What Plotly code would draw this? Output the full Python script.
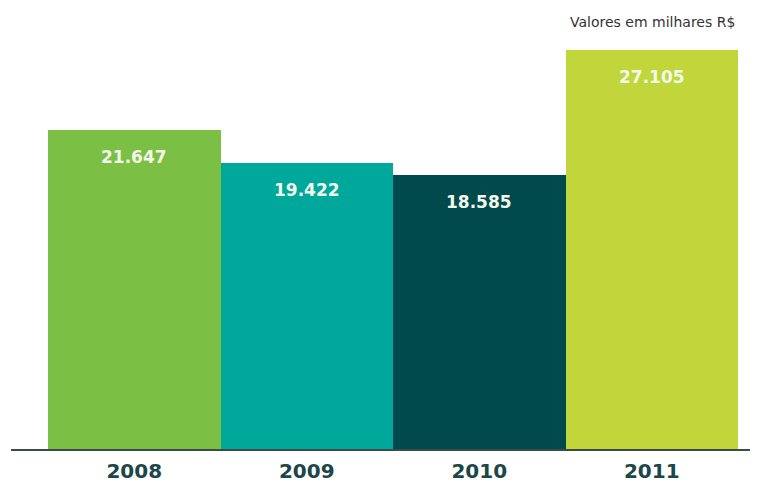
import plotly.graph_objects as go

# Annual values (thousands of R$)
years = ["2008", "2009", "2010", "2011"]
values = [21647, 19422, 18585, 27105]
bar_colors = ["#7cbf45", "#00a89b", "#004a4d", "#c0d63b"]


def fmt_br(v):
    # Brazilian thousands separator
    return f"{v:,}".replace(",", ".")


positions = list(range(len(years)))

fig = go.Figure()
fig.add_trace(
    go.Bar(
        x=positions,
        y=values,
        width=1.0,
        marker=dict(color=bar_colors, line=dict(width=0)),
        hoverinfo="skip",
    )
)

# value labels inside the top of each bar
for x, v in zip(positions, values):
    fig.add_annotation(
        x=x,
        y=v,
        text=fmt_br(v),
        showarrow=False,
        yanchor="middle",
        yshift=-27,
        font=dict(family="DejaVu Sans", size=17, color="#f2f9ea", weight="bold"),
    )

fig.add_annotation(
    x=1,
    y=1,
    xref="paper",
    yref="paper",
    xanchor="right",
    yanchor="bottom",
    xshift=-13,
    yshift=8,
    text="Valores em milhares R$",
    showarrow=False,
    font=dict(family="DejaVu Sans", size=14, color="#333333"),
)

fig.update_layout(
    width=761,
    height=488,
    margin=dict(l=11, r=11, t=40, b=39, autoexpand=False),
    paper_bgcolor="white",
    plot_bgcolor="white",
    showlegend=False,
    bargap=0,
    xaxis=dict(
        range=[-0.7145, 3.5696],
        tickmode="array",
        tickvals=positions,
        ticktext=years,
        showline=True,
        linecolor="#3d4a4a",
        linewidth=2,
        showgrid=False,
        zeroline=False,
        ticks="",
        automargin=False,
        ticklabelstandoff=3,
        tickfont=dict(family="DejaVu Sans", size=20, color="#1d4649", weight="bold"),
        fixedrange=True,
    ),
    yaxis=dict(
        range=[0, 27750],
        visible=False,
        showgrid=False,
        zeroline=False,
        automargin=False,
        fixedrange=True,
    ),
)

fig.write_html("out.html")
